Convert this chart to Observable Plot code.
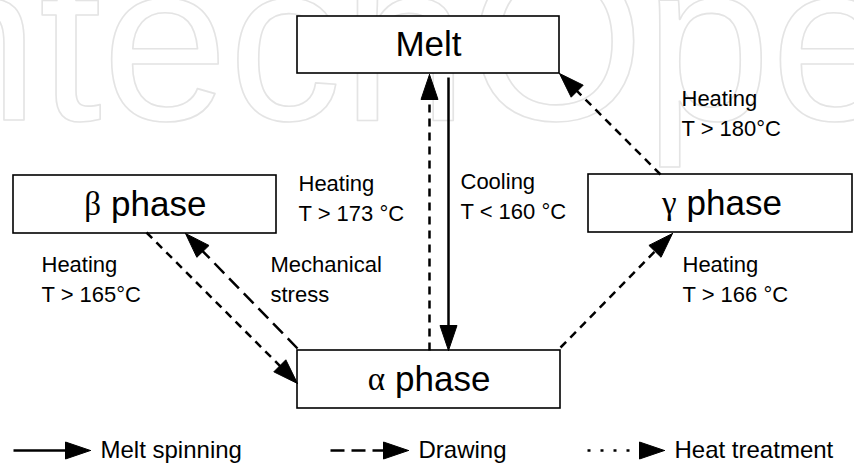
<!DOCTYPE html>
<html><head><meta charset="utf-8">
<script src="https://cdn.jsdelivr.net/npm/d3@7"></script>
<script src="https://cdn.jsdelivr.net/npm/@observablehq/plot@0.6"></script>
<style>html,body{margin:0;padding:0;background:#fff;overflow:hidden;}</style>
</head><body><div id="chart"></div>
<script>
// Watermark
const watermark = "IntechOpen";

// Phase boxes (diagram layout, px)
const boxWord = ["Melt", "phase", "phase", "phase"];
const boxGreek = ["", "β", "γ", "α"];
const boxLeft = [297, 13, 588, 297];
const boxRight = [559, 276, 852, 560];
const boxTop = [16, 175, 174, 350];
const boxBottom = [73, 233, 232, 408];

// Transition arrows (tail -> tip)
const arrowKind = ["spinning", "heat", "heat", "heat", "heat", "drawing"];
const arrowFromX = [448, 429, 660, 560, 146, 297];
const arrowFromY = [77, 350, 174, 347, 232, 348];
const arrowToX = [448, 429, 559, 672, 297, 185];
const arrowToY = [350, 74, 73, 233, 383, 233];

// Transition labels
const labelText = ["Heating\nT > 180°C", "Heating\nT > 173 °C", "Cooling\nT < 160 °C",
  "Heating\nT > 165°C", "Mechanical\nstress", "Heating\nT > 166 °C"];
const labelX = [681, 298, 460, 41, 270, 682];
const labelY = [111, 196, 194, 277, 277, 277];

// Legend
const legendKind = ["spinning", "drawing", "legendHeat"];
const legendLabel = ["Melt spinning", "Drawing", "Heat treatment"];
const legendFromX = [13, 330, 587];
const legendToX = [90, 408, 664];
const legendY = 450;

const dashes = {spinning: null, drawing: "14,7", heat: "8,6", legendHeat: "3,10"};
const SANS = "'Liberation Sans', Arial, Helvetica, sans-serif";
const SERIF = "'Liberation Serif', 'Times New Roman', serif";

const boxes = boxWord.map((w, i) => ({
  word: w, greek: boxGreek[i],
  x1: boxLeft[i], x2: boxRight[i], y1: boxTop[i], y2: boxBottom[i],
  cx: (boxLeft[i] + boxRight[i]) / 2, cy: (boxTop[i] + boxBottom[i]) / 2
}));

const arrows = arrowKind.map((k, i) => ({kind: k, x1: arrowFromX[i], y1: arrowFromY[i], x2: arrowToX[i], y2: arrowToY[i]}))
  .concat(legendKind.map((k, i) => ({kind: k, x1: legendFromX[i], y1: legendY, x2: legendToX[i], y2: legendY})));

const HEAD_L = 25, HEAD_W = 8.5;
const shafts = arrows.map(a => {
  const dx = a.x2 - a.x1, dy = a.y2 - a.y1, len = Math.hypot(dx, dy);
  const ux = dx / len, uy = dy / len;
  return {...a, ex: a.x2 - ux * (HEAD_L - 4), ey: a.y2 - uy * (HEAD_L - 4)};
});
const heads = arrows.flatMap((a, id) => {
  const dx = a.x2 - a.x1, dy = a.y2 - a.y1, len = Math.hypot(dx, dy);
  const ux = dx / len, uy = dy / len, nx = -uy, ny = ux;
  const bx = a.x2 - ux * HEAD_L, by = a.y2 - uy * HEAD_L;
  return [
    {id, x: a.x2, y: a.y2},
    {id, x: bx + nx * HEAD_W, y: by + ny * HEAD_W},
    {id, x: bx - nx * HEAD_W, y: by - ny * HEAD_W},
    {id, x: a.x2, y: a.y2}
  ];
});

const labels = labelText.map((t, i) => ({t, x: labelX[i], y: labelY[i]}));
const legendText = legendLabel.map((t, i) => ({t, x: legendToX[i] + 10, y: legendY}));

const shaftMarks = Object.keys(dashes).map(k =>
  Plot.link(shafts.filter(s => s.kind === k), {
    x1: "x1", y1: "y1", x2: "ex", y2: "ey",
    stroke: "black", strokeWidth: 2.5,
    strokeDasharray: dashes[k] || undefined
  }));

const chart = Plot.plot({
  width: 854, height: 468, margin: 0,
  x: {domain: [0, 854], range: [0, 854], axis: null},
  y: {domain: [0, 468], range: [0, 468], axis: null},
  style: {fontFamily: SANS, background: "white"},
  marks: [
    Plot.text([{t: watermark, x: -151, y: 119}], {
      x: "x", y: "y", text: "t", textAnchor: "start", lineAnchor: "bottom",
      fontSize: 227, fontFamily: SANS, fill: "none", stroke: "#e4e4e4", strokeWidth: 1.6
    }),
    Plot.rect(boxes, {x1: "x1", x2: "x2", y1: "y1", y2: "y2", fill: "white", stroke: "black", strokeWidth: 1.6}),
    ...shaftMarks,
    Plot.line(heads, {x: "x", y: "y", z: "id", fill: "black", stroke: "black", strokeWidth: 1}),
    Plot.text(boxes.filter(b => !b.greek), {
      x: "cx", y: "cy", text: "word", textAnchor: "middle", lineAnchor: "middle",
      fontSize: 35, fontFamily: SANS, fill: "black"
    }),
    Plot.text(boxes.filter(b => b.greek), {
      x: b => b.cx - 34, y: "cy", text: "word", textAnchor: "start", lineAnchor: "middle",
      fontSize: 35, fontFamily: SANS, fill: "black"
    }),
    Plot.text(boxes.filter(b => b.greek), {
      x: b => b.cx - 44, y: "cy", text: "greek", textAnchor: "end", lineAnchor: "middle",
      fontSize: 33, fontFamily: SERIF, fill: "black"
    }),
    Plot.text(labels, {
      x: "x", y: "y", text: "t", textAnchor: "start", lineAnchor: "middle",
      fontSize: 22, lineHeight: 1.35, fontFamily: SANS, fill: "black"
    }),
    Plot.text(legendText, {
      x: "x", y: "y", text: "t", textAnchor: "start", lineAnchor: "middle",
      fontSize: 24, fontFamily: SANS, fill: "black"
    })
  ]
});
document.getElementById("chart").appendChild(chart);
</script>
</body></html>
